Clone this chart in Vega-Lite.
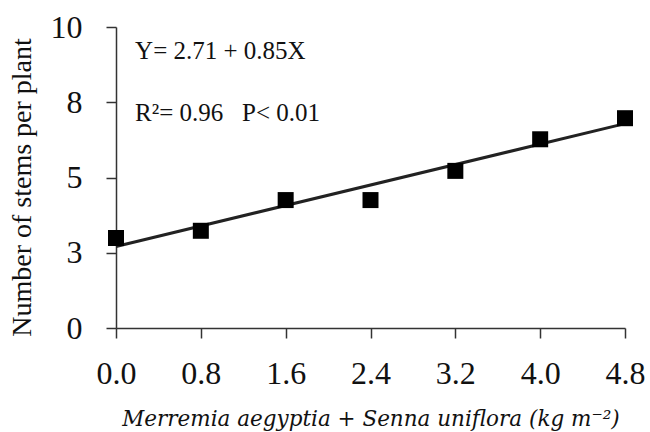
{
  "$schema": "https://vega.github.io/schema/vega-lite/v6.json",
  "autosize": "none",
  "width": 509,
  "height": 301,
  "padding": {"left": 116, "top": 27, "right": 25, "bottom": 104},
  "background": "white",
  "config": {
    "view": {"stroke": null},
    "font": "Liberation Serif",
    "axis": {
      "grid": false,
      "labelFlush": false,
      "labelOverlap": false,
      "domainColor": "#333333",
      "tickColor": "#333333",
      "domainWidth": 1.5,
      "tickWidth": 1.5,
      "tickSize": 10,
      "labelFont": "Liberation Serif",
      "labelColor": "#111111",
      "titleFont": "Liberation Serif",
      "titleColor": "#111111",
      "titleFontWeight": "normal"
    }
  },
  "datasets": {
    "points": [
      {"x": 0.0, "y": 2.99},
      {"x": 0.8, "y": 3.23},
      {"x": 1.6, "y": 4.25},
      {"x": 2.4, "y": 4.25},
      {"x": 3.2, "y": 5.22},
      {"x": 4.0, "y": 6.27},
      {"x": 4.8, "y": 6.97}
    ],
    "fit": [
      {"x": 0.0, "y": 2.71},
      {"x": 4.8, "y": 6.79}
    ]
  },
  "layer": [
    {
      "data": {"name": "fit"},
      "mark": {"type": "line", "color": "#222222", "strokeWidth": 3},
      "encoding": {
        "x": {
          "field": "x", "type": "quantitative",
          "scale": {"domain": [0, 4.8], "nice": false, "zero": false},
          "axis": {
            "values": [0, 0.8, 1.6, 2.4, 3.2, 4.0, 4.8],
            "format": ".1f",
            "labelFontSize": 32,
            "labelPadding": 20,
            "title": "Merremia aegyptia + Senna uniflora (kg m⁻²)",
            "titleFont": "DejaVu Serif",
            "titleFontSize": 21.5,
            "titleFontStyle": "italic",
            "titlePadding": 19
          }
        },
        "y": {
          "field": "y", "type": "quantitative",
          "scale": {"domain": [0, 10], "nice": false},
          "axis": {
            "values": [0, 2.5, 5, 7.5, 10],
            "labelExpr": "round(datum.value)",
            "labelFontSize": 32,
            "labelPadding": 24,
            "title": "Number of stems per plant",
            "titleFontSize": 28,
            "titleY": 160,
            "titlePadding": 14
          }
        }
      }
    },
    {
      "data": {"name": "points"},
      "mark": {"type": "point", "shape": "square", "filled": true, "color": "#000000", "opacity": 1, "size": 256},
      "encoding": {
        "x": {"field": "x", "type": "quantitative"},
        "y": {"field": "y", "type": "quantitative"}
      }
    },
    {
      "data": {"values": [{"label": "Y= 2.71 + 0.85X"}]},
      "mark": {"type": "text", "align": "left", "baseline": "middle", "fontSize": 25, "color": "#111111"},
      "encoding": {
        "x": {"datum": 0.18, "type": "quantitative"},
        "y": {"datum": 9.2, "type": "quantitative"},
        "text": {"field": "label"}
      }
    },
    {
      "data": {"values": [{"label": "R²= 0.96\u00a0\u00a0\u00a0P< 0.01"}]},
      "mark": {"type": "text", "align": "left", "baseline": "middle", "fontSize": 25, "color": "#111111"},
      "encoding": {
        "x": {"datum": 0.18, "type": "quantitative"},
        "y": {"datum": 7.14, "type": "quantitative"},
        "text": {"field": "label"}
      }
    }
  ]
}
